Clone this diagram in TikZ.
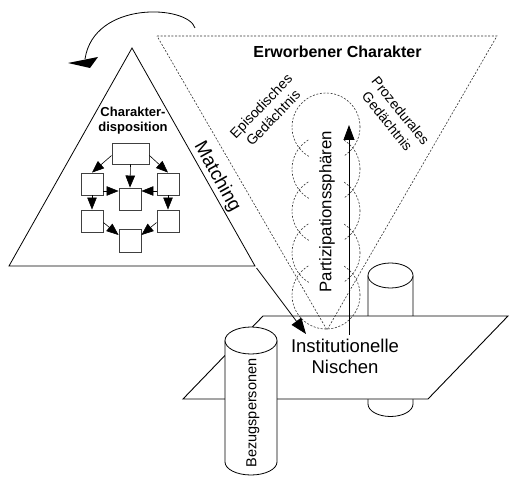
\documentclass[tikz,border=0pt]{standalone}
\usepackage{fontspec}
\setmainfont{Liberation Sans}
\usetikzlibrary{arrows.meta}
\begin{document}
\begin{tikzpicture}[x=1pt,y=-1pt,
  solidline/.style={line width=0.8pt, draw=black},
  dashline/.style={line width=0.6pt, draw=black!80, dash pattern=on 2pt off 1.6pt},
  boxnode/.style={draw=black!75, line width=0.9pt, fill=white, inner sep=0pt, minimum width=22pt, minimum height=22pt},
  smallarr/.style={line width=0.6pt, -{Triangle[length=12pt,width=9.5pt]}},
  bigarr/.style={line width=0.8pt, -{Triangle[length=15pt,width=11pt]}},
  lbl/.style={inner sep=0pt, text=black}
]
\useasboundingbox (0,0) rectangle (525,484);
\fill[white] (0,0) rectangle (525,484);

% curved arrow (top left)
\coordinate (ca0) at (195,28);
\coordinate (ca1) at (85,59);
\draw[line width=0.8pt] (ca0) .. controls (188,5) and (94,0) .. (ca1);
\fill[black] (68,63) -- (98,57) -- (90,68) -- cycle;

% solid triangle
\coordinate (t1) at (132,48);
\coordinate (t2) at (9,266);
\coordinate (t3) at (255,266);
\draw[solidline] (t1) -- (t2) -- (t3) -- cycle;

% right cylinder (behind plane)
\path[fill=white] (368,275.5) -- (368,404) arc[start angle=180,end angle=360,x radius=22.5pt,y radius=12.5pt] -- (413,275.5) -- cycle;
\draw[solidline] (368,275.5) -- (368,404) arc[start angle=180,end angle=360,x radius=22.5pt,y radius=12.5pt] -- (413,275.5);
\draw[solidline, fill=white] (390.5,275.5) ellipse[x radius=22.5pt,y radius=12.5pt];

% plane
\draw[line width=0.9pt, fill=white] (263,316) -- (508,316) -- (428,399) -- (183,399) -- cycle;

% dashed inverted triangle
\coordinate (d1) at (157,36);
\coordinate (d2) at (497,36);
\coordinate (d3) at (327,330);
\draw[dashline] (d1) -- (d2) -- (d3) -- cycle;

% dashed circles
\foreach \cy in {127,169,211,253,295}{
  \draw[dashline] (326,\cy) circle[radius=34pt];
}
% text block of the label hides the inner arcs
\fill[white] (309,132) rectangle (344,296);

% vertical arrow
\coordinate (va0) at (349,335);
\coordinate (va1) at (349,125);
\draw[bigarr] (va0) -- (va1);

% matching arrow
\coordinate (ma1) at (306,334);
\draw[line width=0.8pt, -{Triangle[length=16pt,width=12pt]}] (t3) ++(1.5,2) -- (ma1);

% left cylinder (in front)
\path[fill=white] (225,340.5) -- (225,462) arc[start angle=180,end angle=360,x radius=26pt,y radius=13pt] -- (277,340.5) -- cycle;
\draw[solidline] (225,340.5) -- (225,462) arc[start angle=180,end angle=360,x radius=26pt,y radius=13pt] -- (277,340.5);
\draw[solidline, fill=white] (251,340.5) ellipse[x radius=26pt,y radius=13.5pt];

% inner diagram boxes
\node[boxnode, minimum width=37pt, minimum height=21pt] (b1) at (130.5,153.5) {};
\node[boxnode] (b2) at (92,184) {};
\node[boxnode] (b3) at (130,199) {};
\node[boxnode] (b4) at (168,184) {};
\node[boxnode] (b5) at (92,221) {};
\node[boxnode] (b6) at (168,221) {};
\node[boxnode, minimum height=23pt] (b7) at (130,240.5) {};

\draw[smallarr] ([yshift=-2pt]b1.west) -- (b2.north);
\draw[smallarr] ([yshift=-2pt]b1.east) -- (b4.north);
\draw[smallarr] (b1.south) -- (b3.north);
\draw[smallarr] ([yshift=-7pt]b2.east) -- ([yshift=8pt]b3.west);
\draw[smallarr] ([yshift=-7pt]b4.west) -- ([yshift=8pt]b3.east);
\draw[smallarr] (b2.south) -- (b5.north);
\draw[smallarr] (b4.south) -- (b6.north);
\draw[smallarr] ([yshift=-1.5pt]b5.east) -- ([yshift=5.5pt]b7.west);
\draw[smallarr] ([yshift=-1.5pt]b6.west) -- ([yshift=5.5pt]b7.east);

% texts
\node[lbl, font=\fontsize{16}{19}\selectfont\bfseries] (erw) at (337.5,52) {Erworbener Charakter};
\node[lbl, font=\fontsize{13}{15}\selectfont\bfseries, align=center] (cd) at (133,121) {Charakter-\\disposition};
\node[lbl, font=\fontsize{19}{22}\selectfont, rotate=-61] (match) at (217,177) {Matching};
\node[lbl, font=\fontsize{14}{17}\selectfont, align=center, rotate=46] (epi) at (267,112) {Episodisches\\Gedächtnis};
\node[lbl, font=\fontsize{14}{17}\selectfont, align=center, rotate=-51] (pro) at (394,116) {Prozedurales\\Gedächtnis};
\node[lbl, font=\fontsize{16.8}{20}\selectfont, rotate=90] (part) at (327,211.5) {Partizipationssphären};
\node[lbl, font=\fontsize{18.5}{21}\selectfont, align=center] (inst) at (345,356) {Institutionelle\\Nischen};
\node[lbl, font=\fontsize{14.5}{17}\selectfont, rotate=90] (bez) at (253,413) {Bezugspersonen};
\end{tikzpicture}
\end{document}
